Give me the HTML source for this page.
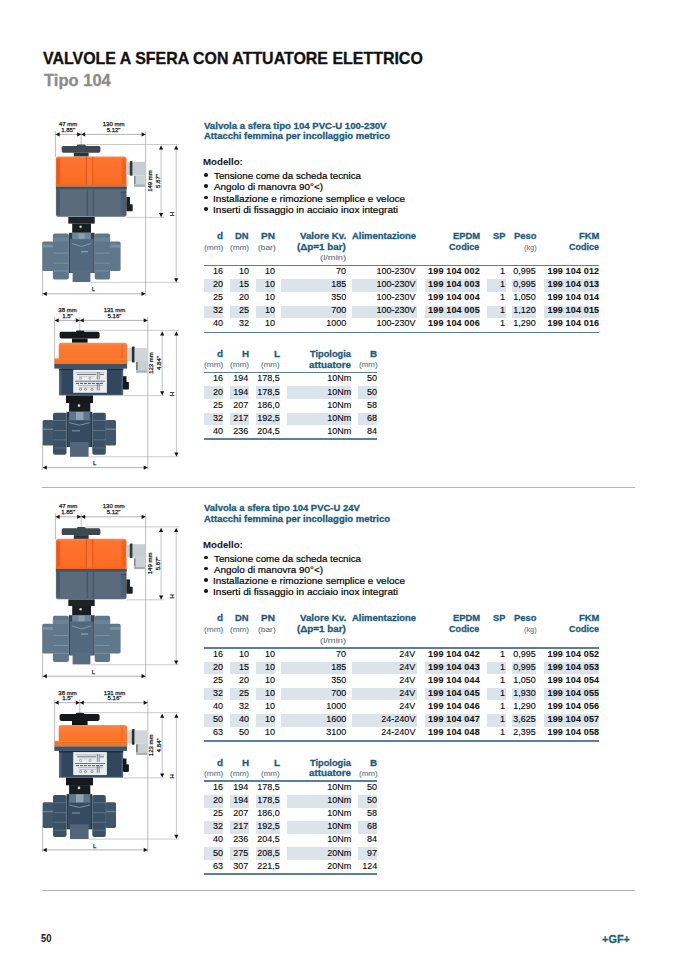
<!DOCTYPE html>
<html><head><meta charset="utf-8"><style>
html,body{margin:0;padding:0;}
body{width:691px;height:972px;position:relative;background:#fff;overflow:hidden;font-family:"Liberation Sans",sans-serif;}
.t{position:absolute;white-space:nowrap;line-height:1;-webkit-text-stroke:0.2px currentColor;}
.w{-webkit-text-stroke:0.08px currentColor;}
.b{position:absolute;}
.bul{position:absolute;width:3.6px;height:3.6px;border-radius:50%;background:#1a1a1a;}
svg{position:absolute;left:0;top:0;}
</style></head><body>
<svg width="691" height="972" viewBox="0 0 691 972" font-family="Liberation Sans" fill="#1a1a1a">
<defs>
<linearGradient id="orA" x1="0" y1="0" x2="0" y2="1"><stop offset="0" stop-color="#ff8a4a"/><stop offset="0.07" stop-color="#fd7430"/><stop offset="0.9" stop-color="#fb6c23"/><stop offset="1" stop-color="#ef621f"/></linearGradient>
<linearGradient id="orB" x1="0" y1="0" x2="0" y2="1"><stop offset="0" stop-color="#ff8f4e"/><stop offset="0.15" stop-color="#fd7d36"/><stop offset="1" stop-color="#fb7127"/></linearGradient>
<g id="ilA"><line x1="55.4" y1="131" x2="55.4" y2="157" stroke="#a0a0a0" stroke-width="0.7"/><line x1="81.2" y1="131" x2="81.2" y2="145" stroke="#a0a0a0" stroke-width="0.7"/><line x1="145.6" y1="131" x2="145.6" y2="296" stroke="#a0a0a0" stroke-width="0.7"/><line x1="55.4" y1="134.4" x2="145.6" y2="134.4" stroke="#909090" stroke-width="0.7"/><polygon points="55.60,134.40 59.60,132.30 59.60,136.50" fill="#111"/><polygon points="81.20,134.40 77.20,132.30 77.20,136.50" fill="#111"/><polygon points="81.20,134.40 85.20,132.30 85.20,136.50" fill="#111"/><polygon points="145.60,134.40 141.60,132.30 141.60,136.50" fill="#111"/><line x1="86" y1="144.5" x2="179.2" y2="144.5" stroke="#b4b4b4" stroke-width="0.7"/><line x1="126.6" y1="217.4" x2="164" y2="217.4" stroke="#b4b4b4" stroke-width="0.7"/><line x1="91" y1="282.4" x2="179" y2="282.4" stroke="#b4b4b4" stroke-width="0.7"/><line x1="161.1" y1="145.6" x2="161.1" y2="217.0" stroke="#bcbcbc" stroke-width="0.9"/><line x1="176.2" y1="145.6" x2="176.2" y2="282.0" stroke="#bcbcbc" stroke-width="0.9"/><polygon points="161.10,145.60 159.00,149.60 163.20,149.60" fill="#111"/><polygon points="161.10,217.10 159.00,213.10 163.20,213.10" fill="#111"/><polygon points="176.20,145.60 174.10,149.60 178.30,149.60" fill="#111"/><polygon points="176.20,282.20 174.10,278.20 178.30,278.20" fill="#111"/><line x1="42.6" y1="268" x2="42.6" y2="296" stroke="#a0a0a0" stroke-width="0.7"/><line x1="42.6" y1="293.8" x2="145.6" y2="293.8" stroke="#909090" stroke-width="0.7"/><polygon points="42.80,293.80 46.80,291.70 46.80,295.90" fill="#111"/><polygon points="145.50,293.80 141.50,291.70 141.50,295.90" fill="#111"/><text x="68.2" y="125.8" font-size="6.0" text-anchor="middle" stroke="#111" stroke-width="0.25" >47 mm</text><text x="68.2" y="131.8" font-size="6.0" text-anchor="middle" stroke="#111" stroke-width="0.25" >1.85"</text><text x="113.6" y="125.8" font-size="6.0" text-anchor="middle" stroke="#111" stroke-width="0.25" >130 mm</text><text x="113.6" y="131.8" font-size="6.0" text-anchor="middle" stroke="#111" stroke-width="0.25" >5.12"</text><text x="0" y="0" font-size="6.0" text-anchor="middle" stroke="#111" stroke-width="0.25" transform="translate(152.4,181) rotate(-90)">149 mm</text><text x="0" y="0" font-size="6.0" text-anchor="middle" stroke="#111" stroke-width="0.25" transform="translate(159.6,181) rotate(-90)">5.87"</text><text x="0" y="0" font-size="6.0" text-anchor="middle" stroke="#111" stroke-width="0.25" transform="translate(173.8,214) rotate(-90)">H</text><text x="93.3" y="291.3" font-size="6.0" text-anchor="middle" stroke="#111" stroke-width="0.25" >L</text><rect x="61.70" y="145.90" width="38.70" height="6.80" rx="1.6" fill="#3d4851" /><rect x="77.00" y="144.60" width="8.70" height="2.40" rx="1" fill="#3d4851" /><rect x="73.80" y="152.70" width="14.80" height="3.90" fill="#2c343a" /><path d="M55.9,186.7 L55.9,159.0 Q55.9,156.4 58.5,156.4 L124.0,156.4 Q126.6,156.4 126.6,159.0 L126.6,186.7 Z" fill="url(#orA)"/><rect x="56.60" y="158.50" width="3.60" height="25.50" rx="0.8" fill="#ee5a1b" /><rect x="121.80" y="158.50" width="4.00" height="25.50" rx="0.8" fill="#f2621f" /><rect x="85.80" y="157.00" width="1.20" height="28.00" fill="#e2551a" /><rect x="92.20" y="157.00" width="1.20" height="28.00" fill="#e2551a" /><rect x="87.00" y="157.00" width="5.20" height="28.00" fill="#fb7430" /><path d="M55.9,186.7 L126.6,186.7 L126.6,214.60000000000002 Q126.6,216.8 124.39999999999999,216.8 L58.1,216.8 Q55.9,216.8 55.9,214.60000000000002 Z" fill="#5a6c7c"/><rect x="55.90" y="186.70" width="70.70" height="2.50" fill="#3f5367" /><rect x="56.80" y="189.20" width="3.10" height="25.80" fill="#45596c" /><rect x="86.60" y="189.20" width="1.60" height="26.80" fill="#45596c" /><rect x="92.60" y="189.20" width="1.60" height="26.80" fill="#45596c" /><rect x="120.80" y="192.20" width="5.20" height="22.80" fill="#4c6073" /><rect x="120.80" y="191.60" width="5.20" height="1.00" fill="#34475a" /><rect x="126.40" y="197.00" width="3.60" height="8.00" fill="#1d2226" /><rect x="126.40" y="204.30" width="6.30" height="7.00" rx="0.8" fill="#1d2226" /><rect x="126.40" y="162.20" width="3.60" height="12.80" fill="#c9d0d5" /><rect x="129.80" y="161.00" width="2.90" height="14.70" rx="1" fill="#2f3a42" /><rect x="132.70" y="161.80" width="12.70" height="13.60" fill="#c6ced4" /><rect x="134.20" y="175.40" width="10.70" height="11.30" fill="#c9d1d7" /><rect x="134.20" y="184.60" width="10.70" height="2.10" fill="#a3acb3" /><rect x="134.20" y="176.00" width="1.20" height="8.00" fill="#6c757c" /><rect x="68.30" y="217.00" width="26.40" height="6.60" fill="#1e2326" /><rect x="72.20" y="223.50" width="18.80" height="9.30" fill="#1a1e21" /><circle cx="80.6" cy="226.8" r="1.2" fill="#d8d8d8"/><rect x="42.20" y="241.40" width="11.40" height="29.60" rx="1.6" fill="#61788b" /><rect x="109.40" y="241.40" width="11.20" height="29.60" rx="1.6" fill="#61788b" /><rect x="42.60" y="244.50" width="10.40" height="3.00" fill="#7890a3" /><rect x="110.00" y="244.50" width="10.20" height="3.00" fill="#7890a3" /><rect x="68.90" y="232.80" width="25.80" height="40.20" fill="#2f4355" /><rect x="70.00" y="239.00" width="23.60" height="33.80" fill="#52687c" /><rect x="72.20" y="232.80" width="18.80" height="6.40" fill="#6f8598" /><rect x="78.50" y="233.20" width="6.00" height="5.80" fill="#8aa0b2" /><rect x="72.60" y="270.00" width="17.80" height="12.00" fill="#566c80" /><rect x="52.90" y="233.40" width="16.00" height="46.20" rx="2" fill="#5f778a" /><rect x="94.70" y="233.40" width="15.40" height="46.20" rx="2" fill="#5f778a" /><rect x="52.90" y="237.50" width="16.00" height="4.00" fill="#6b8396" /><rect x="94.70" y="237.50" width="15.40" height="4.00" fill="#6b8396" /><rect x="53.50" y="252.60" width="14.80" height="0.90" fill="#7c93a6" /><rect x="95.30" y="252.60" width="14.20" height="0.90" fill="#7c93a6" /><rect x="53.50" y="262.70" width="14.80" height="0.90" fill="#7c93a6" /><rect x="95.30" y="262.70" width="14.20" height="0.90" fill="#7c93a6" /><rect x="53.50" y="270.50" width="14.80" height="0.90" fill="#7c93a6" /><rect x="95.30" y="270.50" width="14.20" height="0.90" fill="#7c93a6" /><path d="M72,243.5 L81.5,246.5 L91,243.5" stroke="#8aa0b2" stroke-width="0.9" fill="none"/><rect x="81.00" y="251.00" width="7.00" height="1.30" fill="#8aa0b2" /></g>
<g id="ilB"><line x1="54.6" y1="317" x2="54.6" y2="358.8" stroke="#a0a0a0" stroke-width="0.7"/><line x1="79.8" y1="317" x2="79.8" y2="331" stroke="#a0a0a0" stroke-width="0.7"/><line x1="147.8" y1="317" x2="147.8" y2="470" stroke="#a0a0a0" stroke-width="0.7"/><line x1="54.6" y1="320.4" x2="147.8" y2="320.4" stroke="#909090" stroke-width="0.7"/><polygon points="54.70,320.40 58.70,318.30 58.70,322.50" fill="#111"/><polygon points="79.80,320.40 75.80,318.30 75.80,322.50" fill="#111"/><polygon points="79.80,320.40 83.80,318.30 83.80,322.50" fill="#111"/><polygon points="147.70,320.40 143.70,318.30 143.70,322.50" fill="#111"/><line x1="84" y1="330.4" x2="179.3" y2="330.4" stroke="#b4b4b4" stroke-width="0.7"/><line x1="124" y1="395.6" x2="164.5" y2="395.6" stroke="#b4b4b4" stroke-width="0.7"/><line x1="89" y1="456.8" x2="179" y2="456.8" stroke="#b4b4b4" stroke-width="0.7"/><line x1="162.2" y1="331.5" x2="162.2" y2="395.0" stroke="#bcbcbc" stroke-width="0.9"/><line x1="176.4" y1="331.5" x2="176.4" y2="456.2" stroke="#bcbcbc" stroke-width="0.9"/><polygon points="162.20,331.50 160.10,335.50 164.30,335.50" fill="#111"/><polygon points="162.20,395.30 160.10,391.30 164.30,391.30" fill="#111"/><polygon points="176.40,331.50 174.30,335.50 178.50,335.50" fill="#111"/><polygon points="176.40,456.50 174.30,452.50 178.50,452.50" fill="#111"/><line x1="42.6" y1="443" x2="42.6" y2="470" stroke="#a0a0a0" stroke-width="0.7"/><line x1="42.6" y1="467.6" x2="147.8" y2="467.6" stroke="#909090" stroke-width="0.7"/><polygon points="42.80,467.60 46.80,465.50 46.80,469.70" fill="#111"/><polygon points="147.70,467.60 143.70,465.50 143.70,469.70" fill="#111"/><text x="67.5" y="312.3" font-size="6.0" text-anchor="middle" stroke="#111" stroke-width="0.25" >38 mm</text><text x="67.5" y="318.2" font-size="6.0" text-anchor="middle" stroke="#111" stroke-width="0.25" >1.5"</text><text x="114.5" y="312.3" font-size="6.0" text-anchor="middle" stroke="#111" stroke-width="0.25" >131 mm</text><text x="114.5" y="318.2" font-size="6.0" text-anchor="middle" stroke="#111" stroke-width="0.25" >5.16"</text><text x="0" y="0" font-size="6.0" text-anchor="middle" stroke="#111" stroke-width="0.25" transform="translate(153.3,363) rotate(-90)">123 mm</text><text x="0" y="0" font-size="6.0" text-anchor="middle" stroke="#111" stroke-width="0.25" transform="translate(160.5,363) rotate(-90)">4.84"</text><text x="0" y="0" font-size="6.0" text-anchor="middle" stroke="#111" stroke-width="0.25" transform="translate(173.8,394) rotate(-90)">H</text><text x="94.7" y="465.3" font-size="6.0" text-anchor="middle" stroke="#111" stroke-width="0.25" >L</text><rect x="59.60" y="331.70" width="40.00" height="6.90" rx="1.8" fill="#16191b" /><rect x="76.00" y="330.50" width="8.20" height="2.50" rx="1" fill="#16191b" /><rect x="72.00" y="338.50" width="15.60" height="4.30" fill="#111315" /><path d="M58.7,359.5 L58.7,345.09999999999997 Q58.7,342.7 61.1,342.7 L124.69999999999999,342.7 Q127.1,342.7 127.1,345.09999999999997 L127.1,359.5 Z" fill="url(#orB)"/><rect x="54.30" y="358.60" width="72.80" height="5.40" fill="#f8731f" /><rect x="54.30" y="358.60" width="72.80" height="0.80" fill="#fb8a45" /><rect x="121.60" y="344.00" width="0.90" height="14.60" fill="#e4601c" /><rect x="54.30" y="364.00" width="72.80" height="4.60" fill="#3f5268" /><rect x="59.00" y="368.60" width="64.20" height="26.80" fill="#4d627a" /><rect x="61.40" y="368.60" width="60.00" height="25.80" fill="#30465c" /><rect x="59.00" y="368.60" width="64.20" height="1.60" fill="#1c2e43" /><rect x="73.20" y="369.80" width="33.70" height="23.00" fill="#e9eef1" /><path d="M75.5,372.6 H104.5" stroke="#8a9298" stroke-width="0.6"/><path d="M77,374.5 H96 M100,374.5 H104" stroke="#4f575e" stroke-width="0.8"/><path d="M79,376.6 H95" stroke="#9aa2a8" stroke-width="0.6" stroke-dasharray="1.5 0.8"/><path d="M97.3,372 V379.5 M99.2,372 V379.5" stroke="#4f575e" stroke-width="0.7"/><circle cx="80.5" cy="378.3" r="1" fill="none" stroke="#6a737a" stroke-width="0.5"/><circle cx="90" cy="378.3" r="1" fill="none" stroke="#6a737a" stroke-width="0.5"/><path d="M75,381.2 H105" stroke="#5e666d" stroke-width="0.9"/><path d="M76,383.4 H104" stroke="#4a5259" stroke-width="1.0" stroke-dasharray="3 1"/><path d="M78,385.4 H103" stroke="#8a9298" stroke-width="0.6"/><path d="M79,387.2 H96" stroke="#9aa2a8" stroke-width="0.5"/><path d="M97.3,383 V390.5 M99.2,383 V390.5" stroke="#4f575e" stroke-width="0.7"/><circle cx="80.5" cy="389.3" r="1.1" fill="none" stroke="#555d64" stroke-width="0.6"/><circle cx="85.5" cy="389.3" r="1.1" fill="none" stroke="#555d64" stroke-width="0.6"/><circle cx="92" cy="389.3" r="1.1" fill="none" stroke="#555d64" stroke-width="0.6"/><rect x="123.00" y="376.20" width="3.50" height="6.30" fill="#15181a" /><rect x="123.00" y="382.00" width="5.90" height="7.60" rx="0.8" fill="#15181a" /><rect x="127.00" y="348.00" width="4.90" height="13.40" fill="#cfd4d8" /><rect x="131.80" y="346.60" width="2.90" height="15.90" rx="1" fill="#2a3036" /><rect x="134.70" y="348.00" width="12.70" height="13.00" fill="#d0d5d9" /><rect x="136.20" y="361.00" width="10.80" height="11.60" fill="#c9cfd3" /><rect x="136.20" y="370.60" width="10.80" height="2.00" fill="#a7afb5" /><rect x="136.20" y="362.00" width="1.40" height="8.00" fill="#5c656c" /><rect x="66.00" y="395.40" width="27.00" height="7.60" fill="#15181b" /><rect x="69.10" y="402.80" width="21.20" height="9.00" fill="#181c1f" /><circle cx="79" cy="405.6" r="1.3" fill="#d8d8d8"/><rect x="42.60" y="420.00" width="10.80" height="25.60" rx="1.6" fill="#40566b" /><rect x="105.40" y="420.00" width="10.60" height="25.60" rx="1.6" fill="#40566b" /><rect x="42.90" y="428.50" width="10.10" height="1.50" fill="#6b8094" /><rect x="105.80" y="428.50" width="9.90" height="1.50" fill="#6b8094" /><rect x="66.50" y="411.80" width="25.80" height="35.20" fill="#1f3143" /><rect x="67.60" y="417.00" width="23.60" height="29.80" fill="#364b60" /><rect x="69.10" y="411.80" width="21.20" height="8.60" fill="#607589" /><rect x="76.00" y="412.00" width="7.50" height="8.00" fill="#8fa3b5" /><rect x="70.00" y="442.00" width="18.60" height="14.80" fill="#51667a" /><rect x="53.00" y="412.70" width="13.50" height="42.00" rx="2" fill="#3a5065" /><rect x="92.30" y="412.70" width="13.50" height="42.00" rx="2" fill="#3a5065" /><rect x="53.50" y="420.00" width="12.50" height="0.90" fill="#5f7589" /><rect x="92.80" y="420.00" width="12.50" height="0.90" fill="#5f7589" /><rect x="53.50" y="430.00" width="12.50" height="0.90" fill="#5f7589" /><rect x="92.80" y="430.00" width="12.50" height="0.90" fill="#5f7589" /><rect x="53.50" y="439.50" width="12.50" height="0.90" fill="#5f7589" /><rect x="92.80" y="439.50" width="12.50" height="0.90" fill="#5f7589" /><rect x="53.50" y="447.50" width="12.50" height="0.90" fill="#5f7589" /><rect x="92.80" y="447.50" width="12.50" height="0.90" fill="#5f7589" /><path d="M69,422.6 L79.5,425.2 L90,422.6" stroke="#8198ab" stroke-width="0.9" fill="none"/><rect x="72.00" y="430.00" width="8.00" height="1.40" fill="#6f859a" /></g>
</defs>
<use href="#ilA"/><use href="#ilB"/>
<use href="#ilA" transform="translate(0,382.4)"/><use href="#ilB" transform="translate(0,382.3)"/>
</svg>
<div class="t w" style="top:49.89px;font-size:16.2px;font-weight:bold;color:#111;left:42.62px;transform:scaleX(0.9852);transform-origin:0 0;-webkit-text-stroke:0.3px currentColor;">VALVOLE A SFERA CON ATTUATORE ELETTRICO</div>
<div class="t w" style="top:71.59px;font-size:16.2px;font-weight:bold;color:#8c8c8c;left:43.53px;transform:scaleX(1.0214);transform-origin:0 0;-webkit-text-stroke:0.3px currentColor;">Tipo 104</div>
<div class="t w" style="top:121.09px;font-size:9.7px;font-weight:bold;color:#1c5a7a;left:204.15px;transform:scaleX(0.9908);transform-origin:0 0;-webkit-text-stroke:0.3px currentColor;">Valvola a sfera tipo 104 PVC-U 100-230V</div>
<div class="t w" style="top:131.49px;font-size:9.7px;font-weight:bold;color:#1c5a7a;left:203.66px;transform:scaleX(0.9787);transform-origin:0 0;-webkit-text-stroke:0.3px currentColor;">Attacchi femmina per incollaggio metrico</div>
<div class="t w" style="top:157.46px;font-size:9.5px;font-weight:bold;color:#1a1a1a;left:203.27px;transform:scaleX(1.0193);transform-origin:0 0;">Modello:</div>
<div class="t" style="top:171.12px;font-size:9.9px;left:213.50px;transform:scaleX(0.9883);transform-origin:0 0;">Tensione come da scheda tecnica</div>
<div class="bul" style="left:204.4px;top:173.10px"></div>
<div class="t" style="top:182.39px;font-size:9.9px;left:213.70px;transform:scaleX(0.9986);transform-origin:0 0;">Angolo di manovra 90°&lt;)</div>
<div class="bul" style="left:204.4px;top:184.37px"></div>
<div class="t" style="top:193.66px;font-size:9.9px;left:212.80px;transform:scaleX(1.0109);transform-origin:0 0;">Installazione e rimozione semplice e veloce</div>
<div class="bul" style="left:204.4px;top:195.64px"></div>
<div class="t" style="top:204.93px;font-size:9.9px;left:212.79px;transform:scaleX(1.0184);transform-origin:0 0;">Inserti di fissaggio in acciaio inox integrati</div>
<div class="bul" style="left:204.4px;top:206.91px"></div>
<div class="t w" style="top:230.88px;font-size:9.95px;font-weight:bold;color:#1c5a7a;left:217.30px;transform:scaleX(0.9951);transform-origin:0 0;-webkit-text-stroke:0.3px currentColor;">d</div>
<div class="t w" style="top:230.88px;font-size:9.95px;font-weight:bold;color:#1c5a7a;left:235.29px;transform:scaleX(0.9436);transform-origin:0 0;-webkit-text-stroke:0.3px currentColor;">DN</div>
<div class="t w" style="top:230.88px;font-size:9.95px;font-weight:bold;color:#1c5a7a;left:261.25px;transform:scaleX(1.0090);transform-origin:0 0;-webkit-text-stroke:0.3px currentColor;">PN</div>
<div class="t w" style="top:230.88px;font-size:9.95px;font-weight:bold;color:#1c5a7a;left:300.25px;transform:scaleX(0.9772);transform-origin:0 0;-webkit-text-stroke:0.3px currentColor;">Valore Kv.</div>
<div class="t w" style="top:230.88px;font-size:9.95px;font-weight:bold;color:#1c5a7a;left:351.86px;transform:scaleX(0.9512);transform-origin:0 0;-webkit-text-stroke:0.3px currentColor;">Alimentazione</div>
<div class="t w" style="top:230.88px;font-size:9.95px;font-weight:bold;color:#1c5a7a;left:452.99px;transform:scaleX(0.9448);transform-origin:0 0;-webkit-text-stroke:0.3px currentColor;">EPDM</div>
<div class="t w" style="top:230.88px;font-size:9.95px;font-weight:bold;color:#1c5a7a;left:493.32px;transform:scaleX(0.9259);transform-origin:0 0;-webkit-text-stroke:0.3px currentColor;">SP</div>
<div class="t w" style="top:230.88px;font-size:9.95px;font-weight:bold;color:#1c5a7a;left:513.69px;transform:scaleX(0.9456);transform-origin:0 0;-webkit-text-stroke:0.3px currentColor;">Peso</div>
<div class="t w" style="top:230.88px;font-size:9.95px;font-weight:bold;color:#1c5a7a;left:579.09px;transform:scaleX(0.9482);transform-origin:0 0;-webkit-text-stroke:0.3px currentColor;">FKM</div>
<div class="t w" style="top:241.98px;font-size:9.95px;font-weight:bold;color:#1c5a7a;left:297.41px;transform:scaleX(0.9885);transform-origin:0 0;-webkit-text-stroke:0.3px currentColor;">(Δp=1 bar)</div>
<div class="t w" style="top:241.98px;font-size:9.95px;font-weight:bold;color:#1c5a7a;left:449.44px;transform:scaleX(0.9156);transform-origin:0 0;-webkit-text-stroke:0.3px currentColor;">Codice</div>
<div class="t w" style="top:241.98px;font-size:9.95px;font-weight:bold;color:#1c5a7a;left:569.14px;transform:scaleX(0.9064);transform-origin:0 0;-webkit-text-stroke:0.3px currentColor;">Codice</div>
<div class="t" style="top:243.68px;font-size:7.7px;color:#4a6d80;left:204.10px;transform:scaleX(1.0754);transform-origin:0 0;-webkit-text-stroke:0.05px currentColor;">(mm)</div>
<div class="t" style="top:243.68px;font-size:7.7px;color:#4a6d80;left:230.31px;transform:scaleX(1.0636);transform-origin:0 0;-webkit-text-stroke:0.05px currentColor;">(mm)</div>
<div class="t" style="top:243.68px;font-size:7.7px;color:#4a6d80;left:257.80px;transform:scaleX(1.0899);transform-origin:0 0;-webkit-text-stroke:0.05px currentColor;">(bar)</div>
<div class="t" style="top:243.68px;font-size:7.7px;color:#4a6d80;left:523.66px;transform:scaleX(0.9497);transform-origin:0 0;-webkit-text-stroke:0.05px currentColor;">(kg)</div>
<div class="t" style="top:254.28px;font-size:7.7px;color:#4a6d80;left:320.13px;transform:scaleX(1.2278);transform-origin:0 0;-webkit-text-stroke:0.05px currentColor;">(l/min)</div>
<div class="b" style="left:204.00px;top:264.50px;width:395.30px;height:1.60px;background:#5a7f97"></div>
<div class="t" style="top:267.00px;font-size:9.1px;right:468.00px;transform:scaleX(0.9900);transform-origin:100% 0;-webkit-text-stroke:0.1px currentColor;">16</div>
<div class="t" style="top:267.00px;font-size:9.1px;right:442.20px;transform:scaleX(0.9900);transform-origin:100% 0;-webkit-text-stroke:0.1px currentColor;">10</div>
<div class="t" style="top:267.00px;font-size:9.1px;right:416.20px;transform:scaleX(0.9900);transform-origin:100% 0;-webkit-text-stroke:0.1px currentColor;">10</div>
<div class="t" style="top:267.00px;font-size:9.1px;right:344.90px;transform:scaleX(0.9900);transform-origin:100% 0;-webkit-text-stroke:0.1px currentColor;">70</div>
<div class="t" style="top:267.00px;font-size:9.1px;right:275.40px;transform:scaleX(0.9900);transform-origin:100% 0;-webkit-text-stroke:0.1px currentColor;">100-230V</div>
<div class="t w" style="top:267.08px;font-size:9.0px;font-weight:bold;color:#111;letter-spacing:0.15px;right:211.20px;">199 104 002</div>
<div class="t" style="top:267.00px;font-size:9.1px;right:185.60px;transform:scaleX(0.9900);transform-origin:100% 0;-webkit-text-stroke:0.1px currentColor;">1</div>
<div class="t" style="top:267.00px;font-size:9.1px;right:155.00px;transform:scaleX(0.9900);transform-origin:100% 0;-webkit-text-stroke:0.1px currentColor;">0,995</div>
<div class="t w" style="top:267.08px;font-size:9.0px;font-weight:bold;color:#111;letter-spacing:0.15px;right:91.80px;">199 104 012</div>
<div class="b" style="left:204.00px;top:279.30px;width:19.20px;height:12.40px;background:#dce4eb"></div>
<div class="b" style="left:229.90px;top:279.30px;width:19.00px;height:12.40px;background:#dce4eb"></div>
<div class="b" style="left:256.10px;top:279.30px;width:18.60px;height:12.40px;background:#dce4eb"></div>
<div class="b" style="left:281.10px;top:279.30px;width:65.30px;height:12.40px;background:#dce4eb"></div>
<div class="b" style="left:352.20px;top:279.30px;width:64.80px;height:12.40px;background:#dce4eb"></div>
<div class="b" style="left:424.60px;top:279.30px;width:55.60px;height:12.40px;background:#dce4eb"></div>
<div class="b" style="left:487.00px;top:279.30px;width:18.70px;height:12.40px;background:#dce4eb"></div>
<div class="b" style="left:511.80px;top:279.30px;width:24.70px;height:12.40px;background:#dce4eb"></div>
<div class="b" style="left:544.20px;top:279.30px;width:54.60px;height:12.40px;background:#dce4eb"></div>
<div class="t" style="top:280.10px;font-size:9.1px;right:468.00px;transform:scaleX(0.9900);transform-origin:100% 0;-webkit-text-stroke:0.1px currentColor;">20</div>
<div class="t" style="top:280.10px;font-size:9.1px;right:442.20px;transform:scaleX(0.9900);transform-origin:100% 0;-webkit-text-stroke:0.1px currentColor;">15</div>
<div class="t" style="top:280.10px;font-size:9.1px;right:416.20px;transform:scaleX(0.9900);transform-origin:100% 0;-webkit-text-stroke:0.1px currentColor;">10</div>
<div class="t" style="top:280.10px;font-size:9.1px;right:344.90px;transform:scaleX(0.9900);transform-origin:100% 0;-webkit-text-stroke:0.1px currentColor;">185</div>
<div class="t" style="top:280.10px;font-size:9.1px;right:275.40px;transform:scaleX(0.9900);transform-origin:100% 0;-webkit-text-stroke:0.1px currentColor;">100-230V</div>
<div class="t w" style="top:280.18px;font-size:9.0px;font-weight:bold;color:#111;letter-spacing:0.15px;right:211.20px;">199 104 003</div>
<div class="t" style="top:280.10px;font-size:9.1px;right:185.60px;transform:scaleX(0.9900);transform-origin:100% 0;-webkit-text-stroke:0.1px currentColor;">1</div>
<div class="t" style="top:280.10px;font-size:9.1px;right:155.00px;transform:scaleX(0.9900);transform-origin:100% 0;-webkit-text-stroke:0.1px currentColor;">0,995</div>
<div class="t w" style="top:280.18px;font-size:9.0px;font-weight:bold;color:#111;letter-spacing:0.15px;right:91.80px;">199 104 013</div>
<div class="t" style="top:293.20px;font-size:9.1px;right:468.00px;transform:scaleX(0.9900);transform-origin:100% 0;-webkit-text-stroke:0.1px currentColor;">25</div>
<div class="t" style="top:293.20px;font-size:9.1px;right:442.20px;transform:scaleX(0.9900);transform-origin:100% 0;-webkit-text-stroke:0.1px currentColor;">20</div>
<div class="t" style="top:293.20px;font-size:9.1px;right:416.20px;transform:scaleX(0.9900);transform-origin:100% 0;-webkit-text-stroke:0.1px currentColor;">10</div>
<div class="t" style="top:293.20px;font-size:9.1px;right:344.90px;transform:scaleX(0.9900);transform-origin:100% 0;-webkit-text-stroke:0.1px currentColor;">350</div>
<div class="t" style="top:293.20px;font-size:9.1px;right:275.40px;transform:scaleX(0.9900);transform-origin:100% 0;-webkit-text-stroke:0.1px currentColor;">100-230V</div>
<div class="t w" style="top:293.28px;font-size:9.0px;font-weight:bold;color:#111;letter-spacing:0.15px;right:211.20px;">199 104 004</div>
<div class="t" style="top:293.20px;font-size:9.1px;right:185.60px;transform:scaleX(0.9900);transform-origin:100% 0;-webkit-text-stroke:0.1px currentColor;">1</div>
<div class="t" style="top:293.20px;font-size:9.1px;right:155.00px;transform:scaleX(0.9900);transform-origin:100% 0;-webkit-text-stroke:0.1px currentColor;">1,050</div>
<div class="t w" style="top:293.28px;font-size:9.0px;font-weight:bold;color:#111;letter-spacing:0.15px;right:91.80px;">199 104 014</div>
<div class="b" style="left:204.00px;top:305.50px;width:19.20px;height:12.40px;background:#dce4eb"></div>
<div class="b" style="left:229.90px;top:305.50px;width:19.00px;height:12.40px;background:#dce4eb"></div>
<div class="b" style="left:256.10px;top:305.50px;width:18.60px;height:12.40px;background:#dce4eb"></div>
<div class="b" style="left:281.10px;top:305.50px;width:65.30px;height:12.40px;background:#dce4eb"></div>
<div class="b" style="left:352.20px;top:305.50px;width:64.80px;height:12.40px;background:#dce4eb"></div>
<div class="b" style="left:424.60px;top:305.50px;width:55.60px;height:12.40px;background:#dce4eb"></div>
<div class="b" style="left:487.00px;top:305.50px;width:18.70px;height:12.40px;background:#dce4eb"></div>
<div class="b" style="left:511.80px;top:305.50px;width:24.70px;height:12.40px;background:#dce4eb"></div>
<div class="b" style="left:544.20px;top:305.50px;width:54.60px;height:12.40px;background:#dce4eb"></div>
<div class="t" style="top:306.30px;font-size:9.1px;right:468.00px;transform:scaleX(0.9900);transform-origin:100% 0;-webkit-text-stroke:0.1px currentColor;">32</div>
<div class="t" style="top:306.30px;font-size:9.1px;right:442.20px;transform:scaleX(0.9900);transform-origin:100% 0;-webkit-text-stroke:0.1px currentColor;">25</div>
<div class="t" style="top:306.30px;font-size:9.1px;right:416.20px;transform:scaleX(0.9900);transform-origin:100% 0;-webkit-text-stroke:0.1px currentColor;">10</div>
<div class="t" style="top:306.30px;font-size:9.1px;right:344.90px;transform:scaleX(0.9900);transform-origin:100% 0;-webkit-text-stroke:0.1px currentColor;">700</div>
<div class="t" style="top:306.30px;font-size:9.1px;right:275.40px;transform:scaleX(0.9900);transform-origin:100% 0;-webkit-text-stroke:0.1px currentColor;">100-230V</div>
<div class="t w" style="top:306.38px;font-size:9.0px;font-weight:bold;color:#111;letter-spacing:0.15px;right:211.20px;">199 104 005</div>
<div class="t" style="top:306.30px;font-size:9.1px;right:185.60px;transform:scaleX(0.9900);transform-origin:100% 0;-webkit-text-stroke:0.1px currentColor;">1</div>
<div class="t" style="top:306.30px;font-size:9.1px;right:155.00px;transform:scaleX(0.9900);transform-origin:100% 0;-webkit-text-stroke:0.1px currentColor;">1,120</div>
<div class="t w" style="top:306.38px;font-size:9.0px;font-weight:bold;color:#111;letter-spacing:0.15px;right:91.80px;">199 104 015</div>
<div class="t" style="top:319.40px;font-size:9.1px;right:468.00px;transform:scaleX(0.9900);transform-origin:100% 0;-webkit-text-stroke:0.1px currentColor;">40</div>
<div class="t" style="top:319.40px;font-size:9.1px;right:442.20px;transform:scaleX(0.9900);transform-origin:100% 0;-webkit-text-stroke:0.1px currentColor;">32</div>
<div class="t" style="top:319.40px;font-size:9.1px;right:416.20px;transform:scaleX(0.9900);transform-origin:100% 0;-webkit-text-stroke:0.1px currentColor;">10</div>
<div class="t" style="top:319.40px;font-size:9.1px;right:344.90px;transform:scaleX(0.9900);transform-origin:100% 0;-webkit-text-stroke:0.1px currentColor;">1000</div>
<div class="t" style="top:319.40px;font-size:9.1px;right:275.40px;transform:scaleX(0.9900);transform-origin:100% 0;-webkit-text-stroke:0.1px currentColor;">100-230V</div>
<div class="t w" style="top:319.48px;font-size:9.0px;font-weight:bold;color:#111;letter-spacing:0.15px;right:211.20px;">199 104 006</div>
<div class="t" style="top:319.40px;font-size:9.1px;right:185.60px;transform:scaleX(0.9900);transform-origin:100% 0;-webkit-text-stroke:0.1px currentColor;">1</div>
<div class="t" style="top:319.40px;font-size:9.1px;right:155.00px;transform:scaleX(0.9900);transform-origin:100% 0;-webkit-text-stroke:0.1px currentColor;">1,290</div>
<div class="t w" style="top:319.48px;font-size:9.0px;font-weight:bold;color:#111;letter-spacing:0.15px;right:91.80px;">199 104 016</div>
<div class="b" style="left:204.00px;top:331.50px;width:395.30px;height:1.60px;background:#5a7f97"></div>
<div class="t w" style="top:349.48px;font-size:9.95px;font-weight:bold;color:#1c5a7a;left:217.30px;transform:scaleX(0.9951);transform-origin:0 0;-webkit-text-stroke:0.3px currentColor;">d</div>
<div class="t w" style="top:349.48px;font-size:9.95px;font-weight:bold;color:#1c5a7a;left:241.76px;transform:scaleX(0.9880);transform-origin:0 0;-webkit-text-stroke:0.3px currentColor;">H</div>
<div class="t w" style="top:349.48px;font-size:9.95px;font-weight:bold;color:#1c5a7a;left:273.86px;transform:scaleX(0.9953);transform-origin:0 0;-webkit-text-stroke:0.3px currentColor;">L</div>
<div class="t w" style="top:349.48px;font-size:9.95px;font-weight:bold;color:#1c5a7a;left:309.81px;transform:scaleX(0.9312);transform-origin:0 0;-webkit-text-stroke:0.3px currentColor;">Tipologia</div>
<div class="t w" style="top:349.48px;font-size:9.95px;font-weight:bold;color:#1c5a7a;left:370.06px;transform:scaleX(0.9885);transform-origin:0 0;-webkit-text-stroke:0.3px currentColor;">B</div>
<div class="t w" style="top:359.88px;font-size:9.95px;font-weight:bold;color:#1c5a7a;left:309.20px;transform:scaleX(0.9883);transform-origin:0 0;-webkit-text-stroke:0.3px currentColor;">attuatore</div>
<div class="t" style="top:361.48px;font-size:7.7px;color:#4a6d80;left:204.10px;transform:scaleX(1.0754);transform-origin:0 0;-webkit-text-stroke:0.05px currentColor;">(mm)</div>
<div class="t" style="top:361.48px;font-size:7.7px;color:#4a6d80;left:230.31px;transform:scaleX(1.0636);transform-origin:0 0;-webkit-text-stroke:0.05px currentColor;">(mm)</div>
<div class="t" style="top:361.48px;font-size:7.7px;color:#4a6d80;left:261.42px;transform:scaleX(1.0401);transform-origin:0 0;-webkit-text-stroke:0.05px currentColor;">(mm)</div>
<div class="t" style="top:361.48px;font-size:7.7px;color:#4a6d80;left:358.52px;transform:scaleX(1.0401);transform-origin:0 0;-webkit-text-stroke:0.05px currentColor;">(mm)</div>
<div class="b" style="left:204.00px;top:371.80px;width:173.00px;height:1.60px;background:#5a7f97"></div>
<div class="t" style="top:374.40px;font-size:9.1px;right:468.00px;transform:scaleX(0.9900);transform-origin:100% 0;-webkit-text-stroke:0.1px currentColor;">16</div>
<div class="t" style="top:374.40px;font-size:9.1px;right:442.50px;transform:scaleX(0.9900);transform-origin:100% 0;-webkit-text-stroke:0.1px currentColor;">194</div>
<div class="t" style="top:374.40px;font-size:9.1px;right:411.00px;transform:scaleX(0.9900);transform-origin:100% 0;-webkit-text-stroke:0.1px currentColor;">178,5</div>
<div class="t" style="top:374.40px;font-size:9.1px;right:339.80px;transform:scaleX(0.9900);transform-origin:100% 0;-webkit-text-stroke:0.1px currentColor;">10Nm</div>
<div class="t" style="top:374.40px;font-size:9.1px;right:314.00px;transform:scaleX(0.9900);transform-origin:100% 0;-webkit-text-stroke:0.1px currentColor;">50</div>
<div class="b" style="left:204.00px;top:386.40px;width:19.20px;height:12.60px;background:#dce4eb"></div>
<div class="b" style="left:229.70px;top:386.40px;width:18.90px;height:12.60px;background:#dce4eb"></div>
<div class="b" style="left:255.70px;top:386.40px;width:24.40px;height:12.60px;background:#dce4eb"></div>
<div class="b" style="left:287.00px;top:386.40px;width:64.30px;height:12.60px;background:#dce4eb"></div>
<div class="b" style="left:358.20px;top:386.40px;width:18.80px;height:12.60px;background:#dce4eb"></div>
<div class="t" style="top:387.50px;font-size:9.1px;right:468.00px;transform:scaleX(0.9900);transform-origin:100% 0;-webkit-text-stroke:0.1px currentColor;">20</div>
<div class="t" style="top:387.50px;font-size:9.1px;right:442.50px;transform:scaleX(0.9900);transform-origin:100% 0;-webkit-text-stroke:0.1px currentColor;">194</div>
<div class="t" style="top:387.50px;font-size:9.1px;right:411.00px;transform:scaleX(0.9900);transform-origin:100% 0;-webkit-text-stroke:0.1px currentColor;">178,5</div>
<div class="t" style="top:387.50px;font-size:9.1px;right:339.80px;transform:scaleX(0.9900);transform-origin:100% 0;-webkit-text-stroke:0.1px currentColor;">10Nm</div>
<div class="t" style="top:387.50px;font-size:9.1px;right:314.00px;transform:scaleX(0.9900);transform-origin:100% 0;-webkit-text-stroke:0.1px currentColor;">50</div>
<div class="t" style="top:400.60px;font-size:9.1px;right:468.00px;transform:scaleX(0.9900);transform-origin:100% 0;-webkit-text-stroke:0.1px currentColor;">25</div>
<div class="t" style="top:400.60px;font-size:9.1px;right:442.50px;transform:scaleX(0.9900);transform-origin:100% 0;-webkit-text-stroke:0.1px currentColor;">207</div>
<div class="t" style="top:400.60px;font-size:9.1px;right:411.00px;transform:scaleX(0.9900);transform-origin:100% 0;-webkit-text-stroke:0.1px currentColor;">186,0</div>
<div class="t" style="top:400.60px;font-size:9.1px;right:339.80px;transform:scaleX(0.9900);transform-origin:100% 0;-webkit-text-stroke:0.1px currentColor;">10Nm</div>
<div class="t" style="top:400.60px;font-size:9.1px;right:314.00px;transform:scaleX(0.9900);transform-origin:100% 0;-webkit-text-stroke:0.1px currentColor;">58</div>
<div class="b" style="left:204.00px;top:412.60px;width:19.20px;height:12.60px;background:#dce4eb"></div>
<div class="b" style="left:229.70px;top:412.60px;width:18.90px;height:12.60px;background:#dce4eb"></div>
<div class="b" style="left:255.70px;top:412.60px;width:24.40px;height:12.60px;background:#dce4eb"></div>
<div class="b" style="left:287.00px;top:412.60px;width:64.30px;height:12.60px;background:#dce4eb"></div>
<div class="b" style="left:358.20px;top:412.60px;width:18.80px;height:12.60px;background:#dce4eb"></div>
<div class="t" style="top:413.70px;font-size:9.1px;right:468.00px;transform:scaleX(0.9900);transform-origin:100% 0;-webkit-text-stroke:0.1px currentColor;">32</div>
<div class="t" style="top:413.70px;font-size:9.1px;right:442.50px;transform:scaleX(0.9900);transform-origin:100% 0;-webkit-text-stroke:0.1px currentColor;">217</div>
<div class="t" style="top:413.70px;font-size:9.1px;right:411.00px;transform:scaleX(0.9900);transform-origin:100% 0;-webkit-text-stroke:0.1px currentColor;">192,5</div>
<div class="t" style="top:413.70px;font-size:9.1px;right:339.80px;transform:scaleX(0.9900);transform-origin:100% 0;-webkit-text-stroke:0.1px currentColor;">10Nm</div>
<div class="t" style="top:413.70px;font-size:9.1px;right:314.00px;transform:scaleX(0.9900);transform-origin:100% 0;-webkit-text-stroke:0.1px currentColor;">68</div>
<div class="t" style="top:426.80px;font-size:9.1px;right:468.00px;transform:scaleX(0.9900);transform-origin:100% 0;-webkit-text-stroke:0.1px currentColor;">40</div>
<div class="t" style="top:426.80px;font-size:9.1px;right:442.50px;transform:scaleX(0.9900);transform-origin:100% 0;-webkit-text-stroke:0.1px currentColor;">236</div>
<div class="t" style="top:426.80px;font-size:9.1px;right:411.00px;transform:scaleX(0.9900);transform-origin:100% 0;-webkit-text-stroke:0.1px currentColor;">204,5</div>
<div class="t" style="top:426.80px;font-size:9.1px;right:339.80px;transform:scaleX(0.9900);transform-origin:100% 0;-webkit-text-stroke:0.1px currentColor;">10Nm</div>
<div class="t" style="top:426.80px;font-size:9.1px;right:314.00px;transform:scaleX(0.9900);transform-origin:100% 0;-webkit-text-stroke:0.1px currentColor;">84</div>
<div class="b" style="left:204.00px;top:438.40px;width:173.00px;height:1.60px;background:#5a7f97"></div>
<div class="t w" style="top:503.49px;font-size:9.7px;font-weight:bold;color:#1c5a7a;left:204.15px;transform:scaleX(0.9776);transform-origin:0 0;-webkit-text-stroke:0.3px currentColor;">Valvola a sfera tipo 104 PVC-U 24V</div>
<div class="t w" style="top:513.89px;font-size:9.7px;font-weight:bold;color:#1c5a7a;left:203.66px;transform:scaleX(0.9787);transform-origin:0 0;-webkit-text-stroke:0.3px currentColor;">Attacchi femmina per incollaggio metrico</div>
<div class="t w" style="top:539.86px;font-size:9.5px;font-weight:bold;color:#1a1a1a;left:203.27px;transform:scaleX(1.0193);transform-origin:0 0;">Modello:</div>
<div class="t" style="top:553.52px;font-size:9.9px;left:213.50px;transform:scaleX(0.9883);transform-origin:0 0;">Tensione come da scheda tecnica</div>
<div class="bul" style="left:204.4px;top:555.50px"></div>
<div class="t" style="top:564.79px;font-size:9.9px;left:213.70px;transform:scaleX(0.9986);transform-origin:0 0;">Angolo di manovra 90°&lt;)</div>
<div class="bul" style="left:204.4px;top:566.77px"></div>
<div class="t" style="top:576.06px;font-size:9.9px;left:212.80px;transform:scaleX(1.0109);transform-origin:0 0;">Installazione e rimozione semplice e veloce</div>
<div class="bul" style="left:204.4px;top:578.04px"></div>
<div class="t" style="top:587.33px;font-size:9.9px;left:212.79px;transform:scaleX(1.0184);transform-origin:0 0;">Inserti di fissaggio in acciaio inox integrati</div>
<div class="bul" style="left:204.4px;top:589.31px"></div>
<div class="t w" style="top:613.38px;font-size:9.95px;font-weight:bold;color:#1c5a7a;left:217.30px;transform:scaleX(0.9951);transform-origin:0 0;-webkit-text-stroke:0.3px currentColor;">d</div>
<div class="t w" style="top:613.38px;font-size:9.95px;font-weight:bold;color:#1c5a7a;left:235.29px;transform:scaleX(0.9436);transform-origin:0 0;-webkit-text-stroke:0.3px currentColor;">DN</div>
<div class="t w" style="top:613.38px;font-size:9.95px;font-weight:bold;color:#1c5a7a;left:261.25px;transform:scaleX(1.0090);transform-origin:0 0;-webkit-text-stroke:0.3px currentColor;">PN</div>
<div class="t w" style="top:613.38px;font-size:9.95px;font-weight:bold;color:#1c5a7a;left:300.25px;transform:scaleX(0.9772);transform-origin:0 0;-webkit-text-stroke:0.3px currentColor;">Valore Kv.</div>
<div class="t w" style="top:613.38px;font-size:9.95px;font-weight:bold;color:#1c5a7a;left:351.86px;transform:scaleX(0.9512);transform-origin:0 0;-webkit-text-stroke:0.3px currentColor;">Alimentazione</div>
<div class="t w" style="top:613.38px;font-size:9.95px;font-weight:bold;color:#1c5a7a;left:452.99px;transform:scaleX(0.9448);transform-origin:0 0;-webkit-text-stroke:0.3px currentColor;">EPDM</div>
<div class="t w" style="top:613.38px;font-size:9.95px;font-weight:bold;color:#1c5a7a;left:493.32px;transform:scaleX(0.9259);transform-origin:0 0;-webkit-text-stroke:0.3px currentColor;">SP</div>
<div class="t w" style="top:613.38px;font-size:9.95px;font-weight:bold;color:#1c5a7a;left:513.69px;transform:scaleX(0.9456);transform-origin:0 0;-webkit-text-stroke:0.3px currentColor;">Peso</div>
<div class="t w" style="top:613.38px;font-size:9.95px;font-weight:bold;color:#1c5a7a;left:579.09px;transform:scaleX(0.9482);transform-origin:0 0;-webkit-text-stroke:0.3px currentColor;">FKM</div>
<div class="t w" style="top:624.48px;font-size:9.95px;font-weight:bold;color:#1c5a7a;left:297.41px;transform:scaleX(0.9885);transform-origin:0 0;-webkit-text-stroke:0.3px currentColor;">(Δp=1 bar)</div>
<div class="t w" style="top:624.48px;font-size:9.95px;font-weight:bold;color:#1c5a7a;left:449.44px;transform:scaleX(0.9156);transform-origin:0 0;-webkit-text-stroke:0.3px currentColor;">Codice</div>
<div class="t w" style="top:624.48px;font-size:9.95px;font-weight:bold;color:#1c5a7a;left:569.14px;transform:scaleX(0.9064);transform-origin:0 0;-webkit-text-stroke:0.3px currentColor;">Codice</div>
<div class="t" style="top:626.18px;font-size:7.7px;color:#4a6d80;left:204.10px;transform:scaleX(1.0754);transform-origin:0 0;-webkit-text-stroke:0.05px currentColor;">(mm)</div>
<div class="t" style="top:626.18px;font-size:7.7px;color:#4a6d80;left:230.31px;transform:scaleX(1.0636);transform-origin:0 0;-webkit-text-stroke:0.05px currentColor;">(mm)</div>
<div class="t" style="top:626.18px;font-size:7.7px;color:#4a6d80;left:257.80px;transform:scaleX(1.0899);transform-origin:0 0;-webkit-text-stroke:0.05px currentColor;">(bar)</div>
<div class="t" style="top:626.18px;font-size:7.7px;color:#4a6d80;left:523.66px;transform:scaleX(0.9497);transform-origin:0 0;-webkit-text-stroke:0.05px currentColor;">(kg)</div>
<div class="t" style="top:636.78px;font-size:7.7px;color:#4a6d80;left:320.13px;transform:scaleX(1.2278);transform-origin:0 0;-webkit-text-stroke:0.05px currentColor;">(l/min)</div>
<div class="b" style="left:204.00px;top:647.00px;width:395.30px;height:1.60px;background:#5a7f97"></div>
<div class="t" style="top:649.50px;font-size:9.1px;right:468.00px;transform:scaleX(0.9900);transform-origin:100% 0;-webkit-text-stroke:0.1px currentColor;">16</div>
<div class="t" style="top:649.50px;font-size:9.1px;right:442.20px;transform:scaleX(0.9900);transform-origin:100% 0;-webkit-text-stroke:0.1px currentColor;">10</div>
<div class="t" style="top:649.50px;font-size:9.1px;right:416.20px;transform:scaleX(0.9900);transform-origin:100% 0;-webkit-text-stroke:0.1px currentColor;">10</div>
<div class="t" style="top:649.50px;font-size:9.1px;right:344.90px;transform:scaleX(0.9900);transform-origin:100% 0;-webkit-text-stroke:0.1px currentColor;">70</div>
<div class="t" style="top:649.50px;font-size:9.1px;right:275.40px;transform:scaleX(0.9900);transform-origin:100% 0;-webkit-text-stroke:0.1px currentColor;">24V</div>
<div class="t w" style="top:649.58px;font-size:9.0px;font-weight:bold;color:#111;letter-spacing:0.15px;right:211.20px;">199 104 042</div>
<div class="t" style="top:649.50px;font-size:9.1px;right:185.60px;transform:scaleX(0.9900);transform-origin:100% 0;-webkit-text-stroke:0.1px currentColor;">1</div>
<div class="t" style="top:649.50px;font-size:9.1px;right:155.00px;transform:scaleX(0.9900);transform-origin:100% 0;-webkit-text-stroke:0.1px currentColor;">0,995</div>
<div class="t w" style="top:649.58px;font-size:9.0px;font-weight:bold;color:#111;letter-spacing:0.15px;right:91.80px;">199 104 052</div>
<div class="b" style="left:204.00px;top:661.80px;width:19.20px;height:12.40px;background:#dce4eb"></div>
<div class="b" style="left:229.90px;top:661.80px;width:19.00px;height:12.40px;background:#dce4eb"></div>
<div class="b" style="left:256.10px;top:661.80px;width:18.60px;height:12.40px;background:#dce4eb"></div>
<div class="b" style="left:281.10px;top:661.80px;width:65.30px;height:12.40px;background:#dce4eb"></div>
<div class="b" style="left:352.20px;top:661.80px;width:64.80px;height:12.40px;background:#dce4eb"></div>
<div class="b" style="left:424.60px;top:661.80px;width:55.60px;height:12.40px;background:#dce4eb"></div>
<div class="b" style="left:487.00px;top:661.80px;width:18.70px;height:12.40px;background:#dce4eb"></div>
<div class="b" style="left:511.80px;top:661.80px;width:24.70px;height:12.40px;background:#dce4eb"></div>
<div class="b" style="left:544.20px;top:661.80px;width:54.60px;height:12.40px;background:#dce4eb"></div>
<div class="t" style="top:662.60px;font-size:9.1px;right:468.00px;transform:scaleX(0.9900);transform-origin:100% 0;-webkit-text-stroke:0.1px currentColor;">20</div>
<div class="t" style="top:662.60px;font-size:9.1px;right:442.20px;transform:scaleX(0.9900);transform-origin:100% 0;-webkit-text-stroke:0.1px currentColor;">15</div>
<div class="t" style="top:662.60px;font-size:9.1px;right:416.20px;transform:scaleX(0.9900);transform-origin:100% 0;-webkit-text-stroke:0.1px currentColor;">10</div>
<div class="t" style="top:662.60px;font-size:9.1px;right:344.90px;transform:scaleX(0.9900);transform-origin:100% 0;-webkit-text-stroke:0.1px currentColor;">185</div>
<div class="t" style="top:662.60px;font-size:9.1px;right:275.40px;transform:scaleX(0.9900);transform-origin:100% 0;-webkit-text-stroke:0.1px currentColor;">24V</div>
<div class="t w" style="top:662.68px;font-size:9.0px;font-weight:bold;color:#111;letter-spacing:0.15px;right:211.20px;">199 104 043</div>
<div class="t" style="top:662.60px;font-size:9.1px;right:185.60px;transform:scaleX(0.9900);transform-origin:100% 0;-webkit-text-stroke:0.1px currentColor;">1</div>
<div class="t" style="top:662.60px;font-size:9.1px;right:155.00px;transform:scaleX(0.9900);transform-origin:100% 0;-webkit-text-stroke:0.1px currentColor;">0,995</div>
<div class="t w" style="top:662.68px;font-size:9.0px;font-weight:bold;color:#111;letter-spacing:0.15px;right:91.80px;">199 104 053</div>
<div class="t" style="top:675.70px;font-size:9.1px;right:468.00px;transform:scaleX(0.9900);transform-origin:100% 0;-webkit-text-stroke:0.1px currentColor;">25</div>
<div class="t" style="top:675.70px;font-size:9.1px;right:442.20px;transform:scaleX(0.9900);transform-origin:100% 0;-webkit-text-stroke:0.1px currentColor;">20</div>
<div class="t" style="top:675.70px;font-size:9.1px;right:416.20px;transform:scaleX(0.9900);transform-origin:100% 0;-webkit-text-stroke:0.1px currentColor;">10</div>
<div class="t" style="top:675.70px;font-size:9.1px;right:344.90px;transform:scaleX(0.9900);transform-origin:100% 0;-webkit-text-stroke:0.1px currentColor;">350</div>
<div class="t" style="top:675.70px;font-size:9.1px;right:275.40px;transform:scaleX(0.9900);transform-origin:100% 0;-webkit-text-stroke:0.1px currentColor;">24V</div>
<div class="t w" style="top:675.78px;font-size:9.0px;font-weight:bold;color:#111;letter-spacing:0.15px;right:211.20px;">199 104 044</div>
<div class="t" style="top:675.70px;font-size:9.1px;right:185.60px;transform:scaleX(0.9900);transform-origin:100% 0;-webkit-text-stroke:0.1px currentColor;">1</div>
<div class="t" style="top:675.70px;font-size:9.1px;right:155.00px;transform:scaleX(0.9900);transform-origin:100% 0;-webkit-text-stroke:0.1px currentColor;">1,050</div>
<div class="t w" style="top:675.78px;font-size:9.0px;font-weight:bold;color:#111;letter-spacing:0.15px;right:91.80px;">199 104 054</div>
<div class="b" style="left:204.00px;top:688.00px;width:19.20px;height:12.40px;background:#dce4eb"></div>
<div class="b" style="left:229.90px;top:688.00px;width:19.00px;height:12.40px;background:#dce4eb"></div>
<div class="b" style="left:256.10px;top:688.00px;width:18.60px;height:12.40px;background:#dce4eb"></div>
<div class="b" style="left:281.10px;top:688.00px;width:65.30px;height:12.40px;background:#dce4eb"></div>
<div class="b" style="left:352.20px;top:688.00px;width:64.80px;height:12.40px;background:#dce4eb"></div>
<div class="b" style="left:424.60px;top:688.00px;width:55.60px;height:12.40px;background:#dce4eb"></div>
<div class="b" style="left:487.00px;top:688.00px;width:18.70px;height:12.40px;background:#dce4eb"></div>
<div class="b" style="left:511.80px;top:688.00px;width:24.70px;height:12.40px;background:#dce4eb"></div>
<div class="b" style="left:544.20px;top:688.00px;width:54.60px;height:12.40px;background:#dce4eb"></div>
<div class="t" style="top:688.80px;font-size:9.1px;right:468.00px;transform:scaleX(0.9900);transform-origin:100% 0;-webkit-text-stroke:0.1px currentColor;">32</div>
<div class="t" style="top:688.80px;font-size:9.1px;right:442.20px;transform:scaleX(0.9900);transform-origin:100% 0;-webkit-text-stroke:0.1px currentColor;">25</div>
<div class="t" style="top:688.80px;font-size:9.1px;right:416.20px;transform:scaleX(0.9900);transform-origin:100% 0;-webkit-text-stroke:0.1px currentColor;">10</div>
<div class="t" style="top:688.80px;font-size:9.1px;right:344.90px;transform:scaleX(0.9900);transform-origin:100% 0;-webkit-text-stroke:0.1px currentColor;">700</div>
<div class="t" style="top:688.80px;font-size:9.1px;right:275.40px;transform:scaleX(0.9900);transform-origin:100% 0;-webkit-text-stroke:0.1px currentColor;">24V</div>
<div class="t w" style="top:688.88px;font-size:9.0px;font-weight:bold;color:#111;letter-spacing:0.15px;right:211.20px;">199 104 045</div>
<div class="t" style="top:688.80px;font-size:9.1px;right:185.60px;transform:scaleX(0.9900);transform-origin:100% 0;-webkit-text-stroke:0.1px currentColor;">1</div>
<div class="t" style="top:688.80px;font-size:9.1px;right:155.00px;transform:scaleX(0.9900);transform-origin:100% 0;-webkit-text-stroke:0.1px currentColor;">1,930</div>
<div class="t w" style="top:688.88px;font-size:9.0px;font-weight:bold;color:#111;letter-spacing:0.15px;right:91.80px;">199 104 055</div>
<div class="t" style="top:701.90px;font-size:9.1px;right:468.00px;transform:scaleX(0.9900);transform-origin:100% 0;-webkit-text-stroke:0.1px currentColor;">40</div>
<div class="t" style="top:701.90px;font-size:9.1px;right:442.20px;transform:scaleX(0.9900);transform-origin:100% 0;-webkit-text-stroke:0.1px currentColor;">32</div>
<div class="t" style="top:701.90px;font-size:9.1px;right:416.20px;transform:scaleX(0.9900);transform-origin:100% 0;-webkit-text-stroke:0.1px currentColor;">10</div>
<div class="t" style="top:701.90px;font-size:9.1px;right:344.90px;transform:scaleX(0.9900);transform-origin:100% 0;-webkit-text-stroke:0.1px currentColor;">1000</div>
<div class="t" style="top:701.90px;font-size:9.1px;right:275.40px;transform:scaleX(0.9900);transform-origin:100% 0;-webkit-text-stroke:0.1px currentColor;">24V</div>
<div class="t w" style="top:701.98px;font-size:9.0px;font-weight:bold;color:#111;letter-spacing:0.15px;right:211.20px;">199 104 046</div>
<div class="t" style="top:701.90px;font-size:9.1px;right:185.60px;transform:scaleX(0.9900);transform-origin:100% 0;-webkit-text-stroke:0.1px currentColor;">1</div>
<div class="t" style="top:701.90px;font-size:9.1px;right:155.00px;transform:scaleX(0.9900);transform-origin:100% 0;-webkit-text-stroke:0.1px currentColor;">1,290</div>
<div class="t w" style="top:701.98px;font-size:9.0px;font-weight:bold;color:#111;letter-spacing:0.15px;right:91.80px;">199 104 056</div>
<div class="b" style="left:204.00px;top:714.20px;width:19.20px;height:12.40px;background:#dce4eb"></div>
<div class="b" style="left:229.90px;top:714.20px;width:19.00px;height:12.40px;background:#dce4eb"></div>
<div class="b" style="left:256.10px;top:714.20px;width:18.60px;height:12.40px;background:#dce4eb"></div>
<div class="b" style="left:281.10px;top:714.20px;width:65.30px;height:12.40px;background:#dce4eb"></div>
<div class="b" style="left:352.20px;top:714.20px;width:64.80px;height:12.40px;background:#dce4eb"></div>
<div class="b" style="left:424.60px;top:714.20px;width:55.60px;height:12.40px;background:#dce4eb"></div>
<div class="b" style="left:487.00px;top:714.20px;width:18.70px;height:12.40px;background:#dce4eb"></div>
<div class="b" style="left:511.80px;top:714.20px;width:24.70px;height:12.40px;background:#dce4eb"></div>
<div class="b" style="left:544.20px;top:714.20px;width:54.60px;height:12.40px;background:#dce4eb"></div>
<div class="t" style="top:715.00px;font-size:9.1px;right:468.00px;transform:scaleX(0.9900);transform-origin:100% 0;-webkit-text-stroke:0.1px currentColor;">50</div>
<div class="t" style="top:715.00px;font-size:9.1px;right:442.20px;transform:scaleX(0.9900);transform-origin:100% 0;-webkit-text-stroke:0.1px currentColor;">40</div>
<div class="t" style="top:715.00px;font-size:9.1px;right:416.20px;transform:scaleX(0.9900);transform-origin:100% 0;-webkit-text-stroke:0.1px currentColor;">10</div>
<div class="t" style="top:715.00px;font-size:9.1px;right:344.90px;transform:scaleX(0.9900);transform-origin:100% 0;-webkit-text-stroke:0.1px currentColor;">1600</div>
<div class="t" style="top:715.00px;font-size:9.1px;right:275.40px;transform:scaleX(0.9900);transform-origin:100% 0;-webkit-text-stroke:0.1px currentColor;">24-240V</div>
<div class="t w" style="top:715.08px;font-size:9.0px;font-weight:bold;color:#111;letter-spacing:0.15px;right:211.20px;">199 104 047</div>
<div class="t" style="top:715.00px;font-size:9.1px;right:185.60px;transform:scaleX(0.9900);transform-origin:100% 0;-webkit-text-stroke:0.1px currentColor;">1</div>
<div class="t" style="top:715.00px;font-size:9.1px;right:155.00px;transform:scaleX(0.9900);transform-origin:100% 0;-webkit-text-stroke:0.1px currentColor;">3,625</div>
<div class="t w" style="top:715.08px;font-size:9.0px;font-weight:bold;color:#111;letter-spacing:0.15px;right:91.80px;">199 104 057</div>
<div class="t" style="top:728.10px;font-size:9.1px;right:468.00px;transform:scaleX(0.9900);transform-origin:100% 0;-webkit-text-stroke:0.1px currentColor;">63</div>
<div class="t" style="top:728.10px;font-size:9.1px;right:442.20px;transform:scaleX(0.9900);transform-origin:100% 0;-webkit-text-stroke:0.1px currentColor;">50</div>
<div class="t" style="top:728.10px;font-size:9.1px;right:416.20px;transform:scaleX(0.9900);transform-origin:100% 0;-webkit-text-stroke:0.1px currentColor;">10</div>
<div class="t" style="top:728.10px;font-size:9.1px;right:344.90px;transform:scaleX(0.9900);transform-origin:100% 0;-webkit-text-stroke:0.1px currentColor;">3100</div>
<div class="t" style="top:728.10px;font-size:9.1px;right:275.40px;transform:scaleX(0.9900);transform-origin:100% 0;-webkit-text-stroke:0.1px currentColor;">24-240V</div>
<div class="t w" style="top:728.18px;font-size:9.0px;font-weight:bold;color:#111;letter-spacing:0.15px;right:211.20px;">199 104 048</div>
<div class="t" style="top:728.10px;font-size:9.1px;right:185.60px;transform:scaleX(0.9900);transform-origin:100% 0;-webkit-text-stroke:0.1px currentColor;">1</div>
<div class="t" style="top:728.10px;font-size:9.1px;right:155.00px;transform:scaleX(0.9900);transform-origin:100% 0;-webkit-text-stroke:0.1px currentColor;">2,395</div>
<div class="t w" style="top:728.18px;font-size:9.0px;font-weight:bold;color:#111;letter-spacing:0.15px;right:91.80px;">199 104 058</div>
<div class="b" style="left:204.00px;top:740.20px;width:395.30px;height:1.60px;background:#5a7f97"></div>
<div class="t w" style="top:758.08px;font-size:9.95px;font-weight:bold;color:#1c5a7a;left:217.30px;transform:scaleX(0.9951);transform-origin:0 0;-webkit-text-stroke:0.3px currentColor;">d</div>
<div class="t w" style="top:758.08px;font-size:9.95px;font-weight:bold;color:#1c5a7a;left:241.76px;transform:scaleX(0.9880);transform-origin:0 0;-webkit-text-stroke:0.3px currentColor;">H</div>
<div class="t w" style="top:758.08px;font-size:9.95px;font-weight:bold;color:#1c5a7a;left:273.86px;transform:scaleX(0.9953);transform-origin:0 0;-webkit-text-stroke:0.3px currentColor;">L</div>
<div class="t w" style="top:758.08px;font-size:9.95px;font-weight:bold;color:#1c5a7a;left:309.81px;transform:scaleX(0.9312);transform-origin:0 0;-webkit-text-stroke:0.3px currentColor;">Tipologia</div>
<div class="t w" style="top:758.08px;font-size:9.95px;font-weight:bold;color:#1c5a7a;left:370.06px;transform:scaleX(0.9885);transform-origin:0 0;-webkit-text-stroke:0.3px currentColor;">B</div>
<div class="t w" style="top:768.48px;font-size:9.95px;font-weight:bold;color:#1c5a7a;left:309.20px;transform:scaleX(0.9883);transform-origin:0 0;-webkit-text-stroke:0.3px currentColor;">attuatore</div>
<div class="t" style="top:770.08px;font-size:7.7px;color:#4a6d80;left:204.10px;transform:scaleX(1.0754);transform-origin:0 0;-webkit-text-stroke:0.05px currentColor;">(mm)</div>
<div class="t" style="top:770.08px;font-size:7.7px;color:#4a6d80;left:230.31px;transform:scaleX(1.0636);transform-origin:0 0;-webkit-text-stroke:0.05px currentColor;">(mm)</div>
<div class="t" style="top:770.08px;font-size:7.7px;color:#4a6d80;left:261.42px;transform:scaleX(1.0401);transform-origin:0 0;-webkit-text-stroke:0.05px currentColor;">(mm)</div>
<div class="t" style="top:770.08px;font-size:7.7px;color:#4a6d80;left:358.52px;transform:scaleX(1.0401);transform-origin:0 0;-webkit-text-stroke:0.05px currentColor;">(mm)</div>
<div class="b" style="left:204.00px;top:780.40px;width:173.00px;height:1.60px;background:#5a7f97"></div>
<div class="t" style="top:783.00px;font-size:9.1px;right:468.00px;transform:scaleX(0.9900);transform-origin:100% 0;-webkit-text-stroke:0.1px currentColor;">16</div>
<div class="t" style="top:783.00px;font-size:9.1px;right:442.50px;transform:scaleX(0.9900);transform-origin:100% 0;-webkit-text-stroke:0.1px currentColor;">194</div>
<div class="t" style="top:783.00px;font-size:9.1px;right:411.00px;transform:scaleX(0.9900);transform-origin:100% 0;-webkit-text-stroke:0.1px currentColor;">178,5</div>
<div class="t" style="top:783.00px;font-size:9.1px;right:339.80px;transform:scaleX(0.9900);transform-origin:100% 0;-webkit-text-stroke:0.1px currentColor;">10Nm</div>
<div class="t" style="top:783.00px;font-size:9.1px;right:314.00px;transform:scaleX(0.9900);transform-origin:100% 0;-webkit-text-stroke:0.1px currentColor;">50</div>
<div class="b" style="left:204.00px;top:795.00px;width:19.20px;height:12.60px;background:#dce4eb"></div>
<div class="b" style="left:229.70px;top:795.00px;width:18.90px;height:12.60px;background:#dce4eb"></div>
<div class="b" style="left:255.70px;top:795.00px;width:24.40px;height:12.60px;background:#dce4eb"></div>
<div class="b" style="left:287.00px;top:795.00px;width:64.30px;height:12.60px;background:#dce4eb"></div>
<div class="b" style="left:358.20px;top:795.00px;width:18.80px;height:12.60px;background:#dce4eb"></div>
<div class="t" style="top:796.10px;font-size:9.1px;right:468.00px;transform:scaleX(0.9900);transform-origin:100% 0;-webkit-text-stroke:0.1px currentColor;">20</div>
<div class="t" style="top:796.10px;font-size:9.1px;right:442.50px;transform:scaleX(0.9900);transform-origin:100% 0;-webkit-text-stroke:0.1px currentColor;">194</div>
<div class="t" style="top:796.10px;font-size:9.1px;right:411.00px;transform:scaleX(0.9900);transform-origin:100% 0;-webkit-text-stroke:0.1px currentColor;">178,5</div>
<div class="t" style="top:796.10px;font-size:9.1px;right:339.80px;transform:scaleX(0.9900);transform-origin:100% 0;-webkit-text-stroke:0.1px currentColor;">10Nm</div>
<div class="t" style="top:796.10px;font-size:9.1px;right:314.00px;transform:scaleX(0.9900);transform-origin:100% 0;-webkit-text-stroke:0.1px currentColor;">50</div>
<div class="t" style="top:809.20px;font-size:9.1px;right:468.00px;transform:scaleX(0.9900);transform-origin:100% 0;-webkit-text-stroke:0.1px currentColor;">25</div>
<div class="t" style="top:809.20px;font-size:9.1px;right:442.50px;transform:scaleX(0.9900);transform-origin:100% 0;-webkit-text-stroke:0.1px currentColor;">207</div>
<div class="t" style="top:809.20px;font-size:9.1px;right:411.00px;transform:scaleX(0.9900);transform-origin:100% 0;-webkit-text-stroke:0.1px currentColor;">186,0</div>
<div class="t" style="top:809.20px;font-size:9.1px;right:339.80px;transform:scaleX(0.9900);transform-origin:100% 0;-webkit-text-stroke:0.1px currentColor;">10Nm</div>
<div class="t" style="top:809.20px;font-size:9.1px;right:314.00px;transform:scaleX(0.9900);transform-origin:100% 0;-webkit-text-stroke:0.1px currentColor;">58</div>
<div class="b" style="left:204.00px;top:821.20px;width:19.20px;height:12.60px;background:#dce4eb"></div>
<div class="b" style="left:229.70px;top:821.20px;width:18.90px;height:12.60px;background:#dce4eb"></div>
<div class="b" style="left:255.70px;top:821.20px;width:24.40px;height:12.60px;background:#dce4eb"></div>
<div class="b" style="left:287.00px;top:821.20px;width:64.30px;height:12.60px;background:#dce4eb"></div>
<div class="b" style="left:358.20px;top:821.20px;width:18.80px;height:12.60px;background:#dce4eb"></div>
<div class="t" style="top:822.30px;font-size:9.1px;right:468.00px;transform:scaleX(0.9900);transform-origin:100% 0;-webkit-text-stroke:0.1px currentColor;">32</div>
<div class="t" style="top:822.30px;font-size:9.1px;right:442.50px;transform:scaleX(0.9900);transform-origin:100% 0;-webkit-text-stroke:0.1px currentColor;">217</div>
<div class="t" style="top:822.30px;font-size:9.1px;right:411.00px;transform:scaleX(0.9900);transform-origin:100% 0;-webkit-text-stroke:0.1px currentColor;">192,5</div>
<div class="t" style="top:822.30px;font-size:9.1px;right:339.80px;transform:scaleX(0.9900);transform-origin:100% 0;-webkit-text-stroke:0.1px currentColor;">10Nm</div>
<div class="t" style="top:822.30px;font-size:9.1px;right:314.00px;transform:scaleX(0.9900);transform-origin:100% 0;-webkit-text-stroke:0.1px currentColor;">68</div>
<div class="t" style="top:835.40px;font-size:9.1px;right:468.00px;transform:scaleX(0.9900);transform-origin:100% 0;-webkit-text-stroke:0.1px currentColor;">40</div>
<div class="t" style="top:835.40px;font-size:9.1px;right:442.50px;transform:scaleX(0.9900);transform-origin:100% 0;-webkit-text-stroke:0.1px currentColor;">236</div>
<div class="t" style="top:835.40px;font-size:9.1px;right:411.00px;transform:scaleX(0.9900);transform-origin:100% 0;-webkit-text-stroke:0.1px currentColor;">204,5</div>
<div class="t" style="top:835.40px;font-size:9.1px;right:339.80px;transform:scaleX(0.9900);transform-origin:100% 0;-webkit-text-stroke:0.1px currentColor;">10Nm</div>
<div class="t" style="top:835.40px;font-size:9.1px;right:314.00px;transform:scaleX(0.9900);transform-origin:100% 0;-webkit-text-stroke:0.1px currentColor;">84</div>
<div class="b" style="left:204.00px;top:847.40px;width:19.20px;height:12.60px;background:#dce4eb"></div>
<div class="b" style="left:229.70px;top:847.40px;width:18.90px;height:12.60px;background:#dce4eb"></div>
<div class="b" style="left:255.70px;top:847.40px;width:24.40px;height:12.60px;background:#dce4eb"></div>
<div class="b" style="left:287.00px;top:847.40px;width:64.30px;height:12.60px;background:#dce4eb"></div>
<div class="b" style="left:358.20px;top:847.40px;width:18.80px;height:12.60px;background:#dce4eb"></div>
<div class="t" style="top:848.50px;font-size:9.1px;right:468.00px;transform:scaleX(0.9900);transform-origin:100% 0;-webkit-text-stroke:0.1px currentColor;">50</div>
<div class="t" style="top:848.50px;font-size:9.1px;right:442.50px;transform:scaleX(0.9900);transform-origin:100% 0;-webkit-text-stroke:0.1px currentColor;">275</div>
<div class="t" style="top:848.50px;font-size:9.1px;right:411.00px;transform:scaleX(0.9900);transform-origin:100% 0;-webkit-text-stroke:0.1px currentColor;">208,5</div>
<div class="t" style="top:848.50px;font-size:9.1px;right:339.80px;transform:scaleX(0.9900);transform-origin:100% 0;-webkit-text-stroke:0.1px currentColor;">20Nm</div>
<div class="t" style="top:848.50px;font-size:9.1px;right:314.00px;transform:scaleX(0.9900);transform-origin:100% 0;-webkit-text-stroke:0.1px currentColor;">97</div>
<div class="t" style="top:861.60px;font-size:9.1px;right:468.00px;transform:scaleX(0.9900);transform-origin:100% 0;-webkit-text-stroke:0.1px currentColor;">63</div>
<div class="t" style="top:861.60px;font-size:9.1px;right:442.50px;transform:scaleX(0.9900);transform-origin:100% 0;-webkit-text-stroke:0.1px currentColor;">307</div>
<div class="t" style="top:861.60px;font-size:9.1px;right:411.00px;transform:scaleX(0.9900);transform-origin:100% 0;-webkit-text-stroke:0.1px currentColor;">221,5</div>
<div class="t" style="top:861.60px;font-size:9.1px;right:339.80px;transform:scaleX(0.9900);transform-origin:100% 0;-webkit-text-stroke:0.1px currentColor;">20Nm</div>
<div class="t" style="top:861.60px;font-size:9.1px;right:314.00px;transform:scaleX(0.9900);transform-origin:100% 0;-webkit-text-stroke:0.1px currentColor;">124</div>
<div class="b" style="left:204.00px;top:873.20px;width:173.00px;height:1.60px;background:#5a7f97"></div>
<div class="b" style="left:41.70px;top:487.00px;width:593.60px;height:1.00px;background:#b4b4b4"></div>
<div class="b" style="left:41.70px;top:889.90px;width:593.60px;height:1.00px;background:#b4b4b4"></div>
<div class="t w" style="top:933.23px;font-size:10.6px;font-weight:bold;color:#1a1a1a;left:40.72px;transform:scaleX(0.8890);transform-origin:0 0;">50</div>
<div class="t w" style="top:933.69px;font-size:11px;font-weight:bold;color:#1f5f80;left:601.66px;transform:scaleX(0.9934);transform-origin:0 0;-webkit-text-stroke:0.3px currentColor;">+GF+</div>
</body></html>
